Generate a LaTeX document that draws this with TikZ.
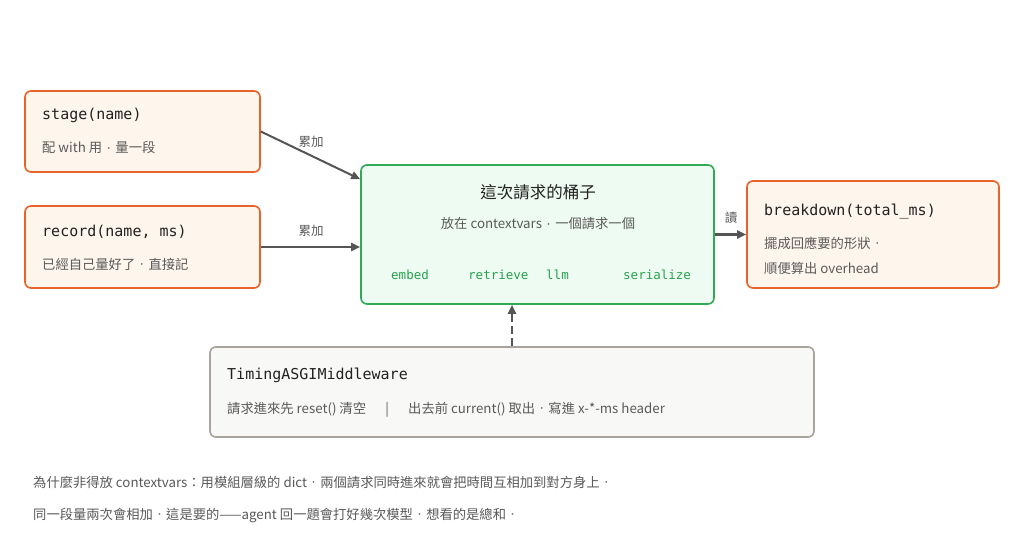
\documentclass[tikz,border=0pt]{standalone}
\usepackage{fontspec}
\setmainfont{Noto Sans CJK TC}
\newfontfamily\monof{DejaVu Sans Mono}
\newcommand\zdot{\makebox[1em][c]{\raisebox{1.8pt}{\fontsize{8}{8}\selectfont ·}}}
\usetikzlibrary{arrows.meta}
\definecolor{orb}{HTML}{E8622A}
\definecolor{orf}{HTML}{FEF5EC}
\definecolor{grb}{HTML}{2FAA55}
\definecolor{grf}{HTML}{EEFBF2}
\definecolor{grt}{HTML}{25A24D}
\definecolor{gyb}{HTML}{A8A49D}
\definecolor{gyf}{HTML}{F8F8F6}
\definecolor{txt}{HTML}{222222}
\definecolor{sub}{HTML}{5A5A5A}
\definecolor{arr}{HTML}{555555}
\tikzset{
  box/.style={draw, line width=1.6pt, rounded corners=6pt, inner sep=0pt},
  obox/.style={box, draw=orb, fill=orf},
  gbox/.style={box, draw=grb, fill=grf},
  ybox/.style={box, draw=gyb, fill=gyf},
  ttl/.style={anchor=base west, inner sep=0pt, text=txt, font=\monof\fontsize{15}{18}\selectfont},
  subt/.style={anchor=base west, inner sep=0pt, text=sub, font=\fontsize{13.3}{16}\selectfont},
  mitem/.style={anchor=base west, inner sep=0pt, text=grt, font=\monof\fontsize{12.5}{15}\selectfont},
  lbl/.style={inner sep=0pt, text=sub, font=\fontsize{12.5}{15}\selectfont},
  conn/.style={draw=arr, line width=2pt, -{Triangle[length=9pt,width=8pt]}}
}
\begin{document}
\begin{tikzpicture}[x=1pt,y=-1pt]
\useasboundingbox[fill=white] (0,0) rectangle (1024,545);
% boxes
\node[obox, minimum width=235pt, minimum height=81pt] (stage) at (142.5,131.5) {};
\node[obox, minimum width=235pt, minimum height=82pt] (record) at (142.5,247) {};
\node[gbox, minimum width=353pt, minimum height=139pt] (center) at (537.5,234.5) {};
\node[obox, minimum width=252pt, minimum height=107pt] (breakdown) at (873,234.5) {};
\node[ybox, minimum width=604pt, minimum height=90pt] (timing) at (512,392) {};
% texts
\node[ttl] (t1) at (42,119.5) {stage(name)};
\node[subt] (s1) at (42,153) {配 with 用\zdot 量一段};
\node[ttl] (t2) at (42,236.5) {record(name, ms)};
\node[subt] (s2) at (42,269) {已經自己量好了\zdot 直接記};
\node[inner sep=0pt, anchor=base, text=txt, font=\fontsize{16.5}{19}\selectfont] (t3) at (538,199) {這次請求的桶子};
\node[inner sep=0pt, anchor=base, text=sub, font=\fontsize{13.3}{16}\selectfont] (s3) at (538,229) {放在 contextvars\zdot 一個請求一個};
\node[mitem] (m1) at (391,279) {embed};
\node[mitem] (m2) at (468,279) {retrieve};
\node[mitem] (m3) at (546,279) {llm};
\node[mitem] (m4) at (623,279) {serialize};
\node[ttl] (t4) at (764,215.5) {breakdown(total\_ms)};
\node[subt] (s4) at (764,248) {擺成回應要的形狀\zdot};
\node[subt] (s5) at (764,273) {順便算出 overhead};
\node[ttl] (t5) at (227,379.5) {TimingASGIMiddleware};
\node[subt] (s6) at (227,413) {請求進來先 reset() 清空\quad\ \ |\quad\ \ 出去前 current() 取出\zdot 寫進 x-*-ms header};
\node[subt] (f1) at (33,487) {為什麼非得放 contextvars：用模組層級的 dict\zdot 兩個請求同時進來就會把時間互相加到對方身上\zdot};
\node[subt] (f2) at (33,519) {同一段量兩次會相加\zdot 這是要的——agent 回一題會打好幾次模型\zdot 想看的是總和\zdot};
% connectors
\draw[conn] (stage.east) -- ([yshift=-15pt]center.north west);
\draw[conn] (record.east) -- (record.east -| center.west);
\draw[conn] (center.east) -- (breakdown.west);
\draw[conn, dashed, dash pattern=on 8pt off 4pt] (timing.north) -- (timing.north |- center.south);
\node[lbl] (l1) at (311,142) {累加};
\node[lbl] (l2) at (311,231) {累加};
\node[lbl] (l3) at (731,218) {讀};
\end{tikzpicture}
\end{document}
